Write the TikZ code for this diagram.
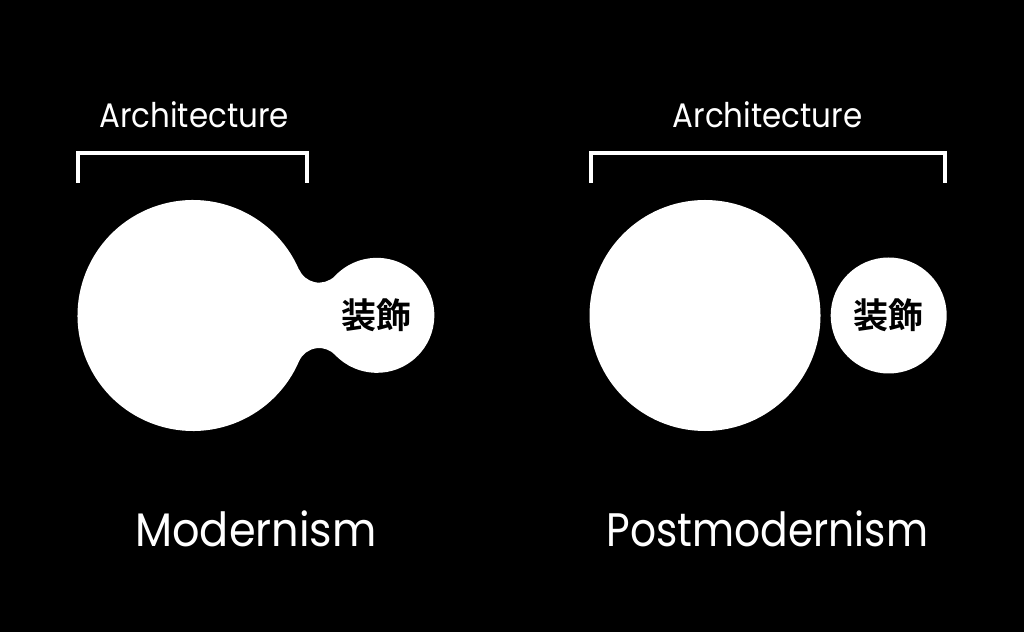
\documentclass[tikz,border=0pt]{standalone}
\usepackage{fontspec}
\setmainfont{Poppins}
\newfontfamily\archfont{Poppins}[FakeStretch=0.91]
\newfontfamily\modfont{Poppins}[FakeStretch=0.915]
\newfontfamily\postfont{Poppins}[FakeStretch=0.868]
\newfontfamily\cjk{Noto Sans CJK JP}[BoldFont={Noto Sans CJK JP Bold}]
\usetikzlibrary{calc}
\begin{document}
\begin{tikzpicture}[x=1pt,y=1pt,
  bracket/.style={draw=white,line width=3.5pt,line join=miter,line cap=butt},
  blob/.style={fill=white},
  archlabel/.style={text=white,font=\archfont\fontsize{34}{40}\selectfont,anchor=base,inner sep=0pt},
  titlelabel/.style={text=white,anchor=base,inner sep=0pt},
  kanji/.style={text=black,font=\cjk\bfseries\fontsize{35}{40}\selectfont,inner sep=0pt}]
\fill[black] (0,0) rectangle (1024,632);
\useasboundingbox (0,0) rectangle (1024,632);
% ---------- left panel (Modernism)
\coordinate (LB) at (193,316.5);
\coordinate (LS) at (376.5,316.5);
\fill[blob] ([shift={(23.38:115.5pt)}]LB)
  arc[start angle=23.38,end angle=336.62,radius=115.5pt]
  arc[start angle=156.62,end angle=43.5,radius=22pt]
  arc[start angle=-136.5,end angle=136.5,radius=57.5pt]
  arc[start angle=-43.5,end angle=-156.62,radius=22pt]
  -- cycle;
\node[kanji] (lk) at (LS) {装飾};
\coordinate (lb1) at (78,449);
\coordinate (lb2) at (78,479);
\coordinate (lb3) at (307,479);
\coordinate (lb4) at (307,449);
\draw[bracket] (lb1) -- (lb2) -- (lb3) -- (lb4);
\node[archlabel] (la) at (194,504) {Architecture};
\node[titlelabel,font=\modfont\fontsize{47}{54}\selectfont] (lt) at (256,85.3) {Modernism};
% ---------- right panel (Postmodernism)
\coordinate (RB) at (705,316.5);
\coordinate (RS) at (888.7,316.5);
\fill[blob] (RB) circle[radius=115.5pt];
\fill[blob] (RS) circle[radius=58pt];
\node[kanji] (rk) at (RS) {装飾};
\coordinate (rb1) at (591,449);
\coordinate (rb2) at (591,479);
\coordinate (rb3) at (945,479);
\coordinate (rb4) at (945,449);
\draw[bracket] (rb1) -- (rb2) -- (rb3) -- (rb4);
\node[archlabel] (ra) at (767.5,504) {Architecture};
\node[titlelabel,font=\postfont\fontsize{47}{54}\selectfont] (rt) at (767.5,85.3) {Postmodernism};
\end{tikzpicture}
\end{document}
